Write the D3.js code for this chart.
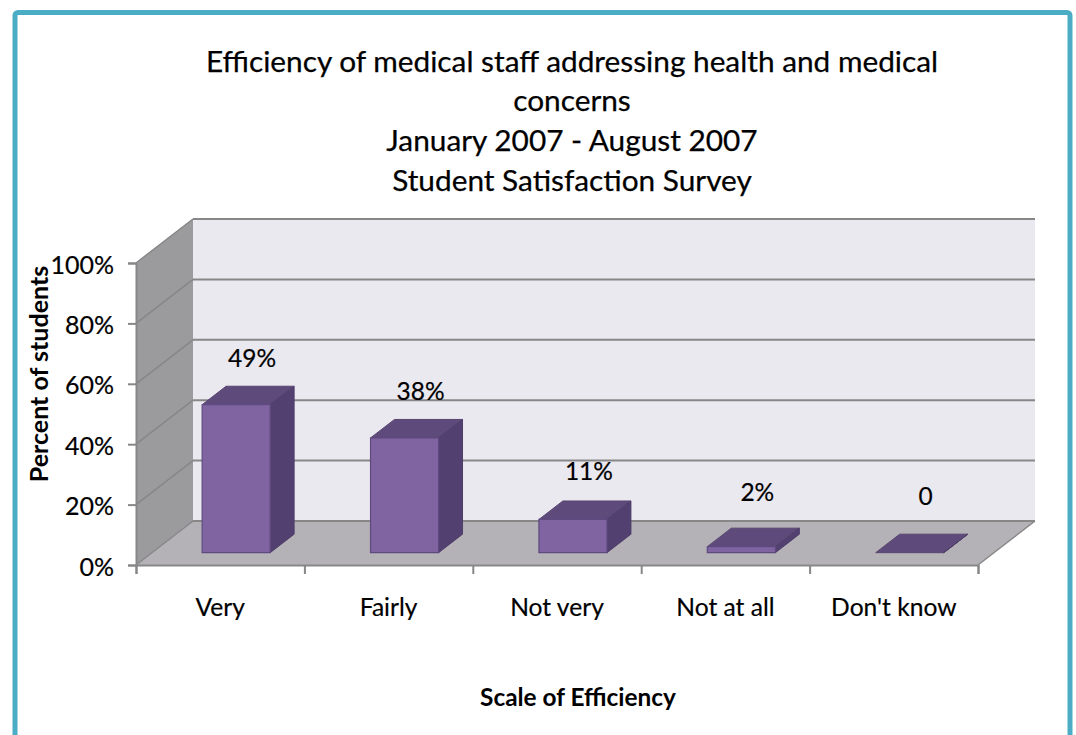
<!DOCTYPE html>
<html><head><meta charset="utf-8">
<script src="https://cdn.jsdelivr.net/npm/d3@7"></script>
<style>body{margin:0;background:#fff} svg{display:block}</style>
</head><body><svg id="c" width="1076" height="735"></svg>
<script>
const categories = ["Very", "Fairly", "Not very", "Not at all", "Don't know"];
const values = [0.49, 0.38, 0.11, 0.02, 0];
const valueLabels = ["49%", "38%", "11%", "2%", "0"];
const yTicks = [0, 0.2, 0.4, 0.6, 0.8, 1];
const titleLines = ["Efficiency of medical staff addressing health and medical", "concerns", "January 2007 - August 2007", "Student Satisfaction Survey"];
const yTitle = "Percent of students";
const xTitle = "Scale of Efficiency";

const FONT = "Lato, Carlito, 'Open Sans', sans-serif";
const svg = d3.select("#c");
const DX = 57, DY = -44;
const P = (x, y, z) => [x + z * DX, y + z * DY];
const L = [136, 978];
const x = d3.scaleBand().domain(categories).range(L).paddingInner(0.596).paddingOuter(0.298);
const xi = d3.scaleLinear().domain([0, categories.length]).range(L);
const y = d3.scaleLinear().domain([0, 1]).range([565, 263]);
const poly = pts => "M" + pts.map(p => p.join(",")).join("L") + "Z";

// border
svg.append("rect").attr("x", 15).attr("y", 12.5).attr("width", 1055).attr("height", 760).attr("rx", 3)
  .attr("fill", "none").attr("stroke", "#4bacc6").attr("stroke-width", 5);

// title
svg.append("g").selectAll("text").data(titleLines).join("text")
  .attr("x", 572).attr("y", (d, i) => 60 + i * 39.7).attr("text-anchor", "middle").attr("dominant-baseline", "central")
  .attr("font-family", FONT).attr("font-size", 29.8).attr("fill", "#000").attr("stroke", "#000").attr("stroke-width", 0.25).text(d => d);

const y0 = y(0), y1 = y(1);
// back wall
svg.append("path").attr("d", poly([P(L[0], y1, 1), P(L[1], y1, 1), P(L[1], y0, 1), P(L[0], y0, 1)])).attr("fill", "#ebe9f0");
// left wall
svg.append("path").attr("d", poly([P(L[0], y1, 0), P(L[0], y1, 1), P(L[0], y0, 1), P(L[0], y0, 0)])).attr("fill", "#9b9a9d");
// floor
svg.append("path").attr("d", poly([P(L[0], y0, 0), P(L[1], y0, 0), P(L[1], y0, 1), P(L[0], y0, 1)])).attr("fill", "#b4b2b7");

const GRID = "#878787";
// back wall gridlines
svg.append("g").selectAll("line").data(yTicks).join("line")
  .attr("x1", P(L[0], 0, 1)[0]).attr("x2", P(L[1], 0, 1)[0])
  .attr("y1", d => P(0, y(d), 1)[1]).attr("y2", d => P(0, y(d), 1)[1])
  .attr("stroke", GRID).attr("stroke-width", 2);
// left wall gridlines
svg.append("g").selectAll("line").data(yTicks).join("line")
  .attr("x1", L[0]).attr("y1", d => y(d))
  .attr("x2", P(L[0], 0, 1)[0]).attr("y2", d => P(0, y(d), 1)[1])
  .attr("stroke", GRID).attr("stroke-width", 1.5);
// floor right edge
svg.append("line").attr("x1", L[1]).attr("y1", y0).attr("x2", P(L[1], y0, 1)[0]).attr("y2", P(L[1], y0, 1)[1])
  .attr("stroke", GRID).attr("stroke-width", 1.5);

// bars
const z0 = 0.28, z1 = 0.70, bw = x.bandwidth();
const bars = svg.append("g").selectAll("g").data(categories.map((c, i) => ({c, v: values[i], lab: valueLabels[i]}))).join("g");
bars.append("path").attr("d", d => { const a = x(d.c), b = a + bw, t = y(d.v);
  return poly([P(a, t, z0), P(b, t, z0), P(b, t, z1), P(a, t, z1)]); })
  .attr("fill", "#5f4b7b").attr("stroke", "#574570").attr("stroke-width", 1);
bars.append("path").attr("d", d => { const a = x(d.c), b = a + bw, t = y(d.v);
  return poly([P(b, t, z0), P(b, t, z1), P(b, y0, z1), P(b, y0, z0)]); })
  .attr("fill", "#524070").attr("stroke", "#4f3e6a").attr("stroke-width", 1);
bars.filter(d => d.v > 0).append("path").attr("d", d => { const a = x(d.c), b = a + bw, t = y(d.v);
  return poly([P(a, t, z0), P(b, t, z0), P(b, y0, z0), P(a, y0, z0)]); })
  .attr("fill", "#8064a2").attr("stroke", "#5e4a7f").attr("stroke-width", 1.2);

const TXT = sel => sel.attr("font-family", FONT).attr("fill", "#000").attr("stroke", "#000").attr("stroke-width", 0.2);

// value labels
bars.append("text")
  .attr("x", d => P(x(d.c) + bw / 2, 0, (z0 + z1) / 2)[0] + 4)
  .attr("y", d => P(0, y(d.v), z1)[1] - (29 + 10 * Math.exp(-d.v / 0.06)))
  .attr("text-anchor", "middle").attr("dominant-baseline", "central")
  .attr("font-size", 24.5).call(TXT).text(d => d.lab);

// y axis
const ya = svg.append("g").attr("transform", `translate(${L[0]},0)`)
  .call(d3.axisLeft(y).tickValues(yTicks).tickFormat(d3.format(".0%")).tickSize(8).tickPadding(14));
ya.selectAll("path,line").attr("stroke", GRID).attr("stroke-width", 2);
ya.selectAll("text").attr("font-size", 25).attr("dy", "0.4em").call(TXT);

// x axis boundary ticks
const xa = svg.append("g").attr("transform", `translate(0,${y0})`)
  .call(d3.axisBottom(xi).tickValues(d3.range(categories.length + 1)).tickSize(9).tickFormat(""));
xa.selectAll("path,line").attr("stroke", GRID).attr("stroke-width", 2);
// category labels
const xl = svg.append("g").attr("transform", `translate(0,${y0})`)
  .call(d3.axisBottom(x).tickSize(0).tickPadding(0));
xl.select(".domain").remove();
xl.selectAll("text").attr("y", 42).attr("dy", "0.35em").attr("font-size", 24.6).call(TXT);

// axis titles
svg.append("text").attr("transform", "translate(38,374) rotate(-90)").attr("text-anchor", "middle").attr("dominant-baseline", "central")
  .attr("font-weight", "bold").attr("font-size", 25).call(TXT).attr("stroke-width", 0).text(yTitle);
svg.append("text").attr("x", 578).attr("y", 696).attr("text-anchor", "middle").attr("dominant-baseline", "central")
  .attr("font-weight", "bold").attr("font-size", 24.4).call(TXT).attr("stroke-width", 0).text(xTitle);
</script></body></html>
